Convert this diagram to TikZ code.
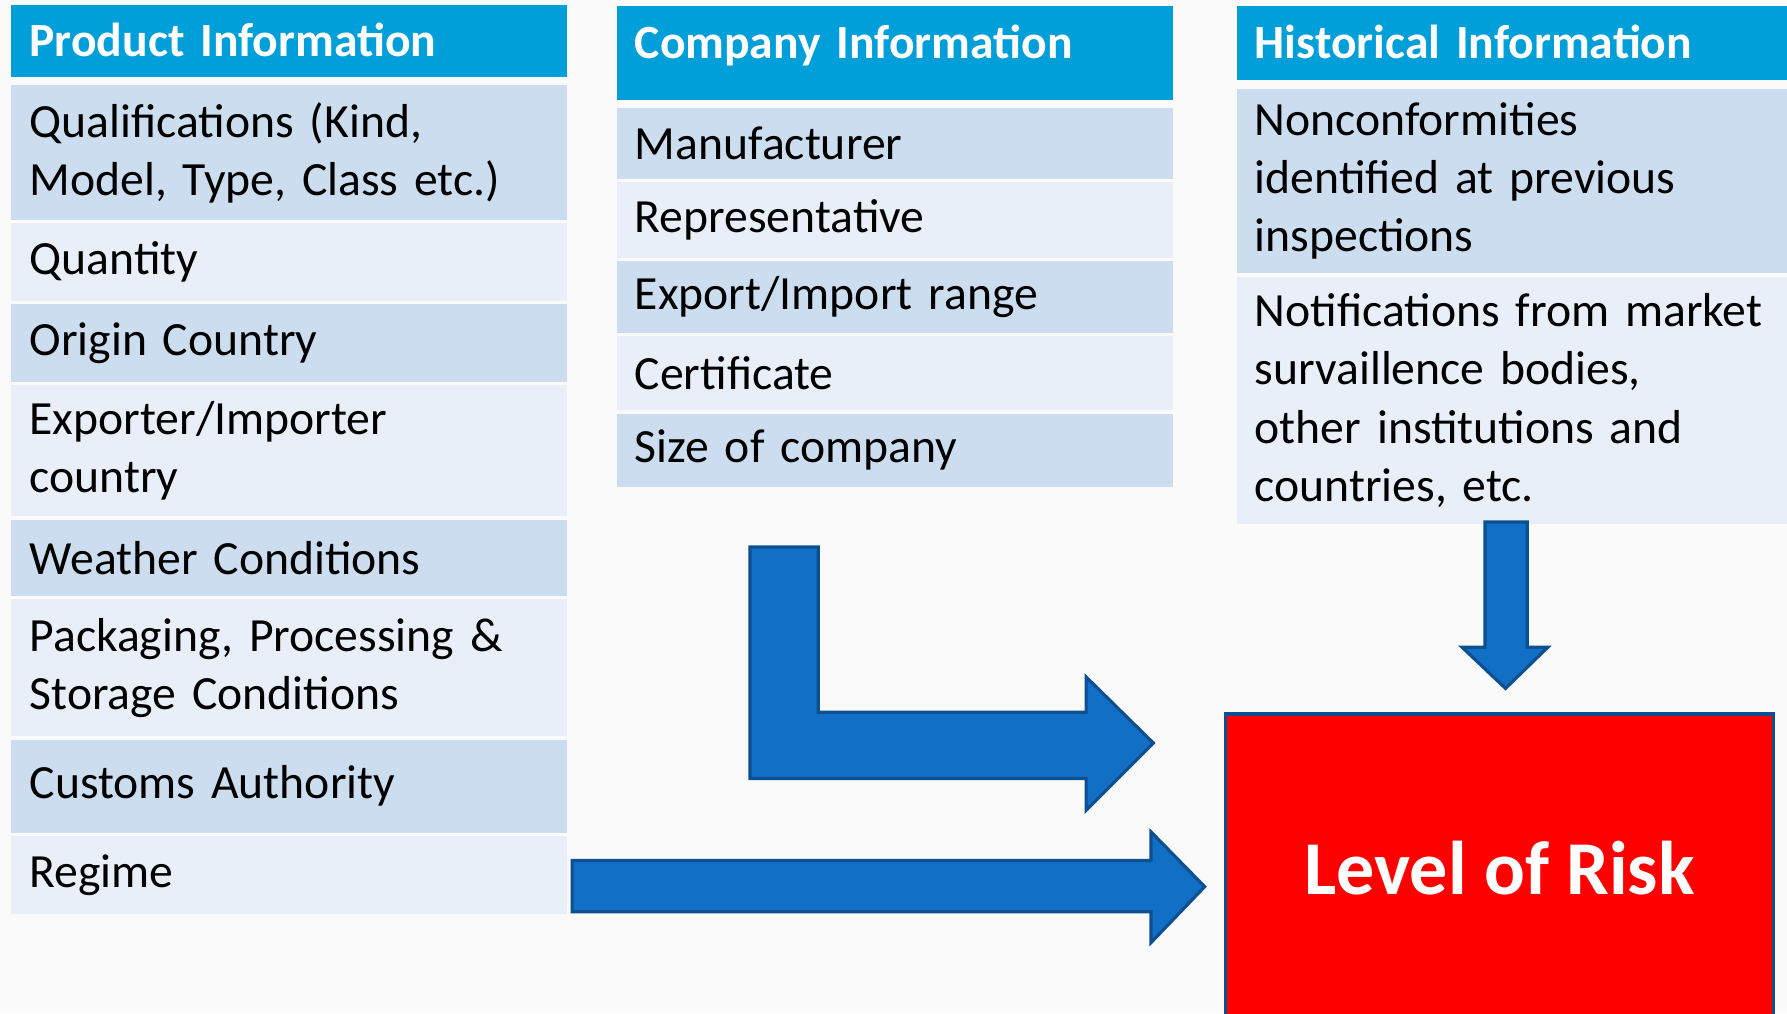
\documentclass[tikz,border=0pt]{standalone}
\usepackage{fontspec}
\setmainfont{Carlito}
\usetikzlibrary{positioning}

\definecolor{headblue}{RGB}{0,159,218}
\definecolor{rowdark}{RGB}{204,221,239}
\definecolor{rowlight}{RGB}{232,239,248}
\definecolor{arrowblue}{RGB}{17,112,197}
\definecolor{arrowedge}{RGB}{12,80,145}
\definecolor{paper}{RGB}{250,250,250}

\begin{document}
\begin{tikzpicture}[x=0.02cm, y=-0.02cm,
  node distance=0.06cm,
  cell/.style = {inner xsep=0.32cm, inner ysep=0pt, outer sep=0pt, align=left,
                 font=\fontsize{23.8}{29}\selectfont, anchor=north west},
  head/.style = {cell, fill=headblue, text=white, font=\fontsize{23.8}{29}\selectfont\bfseries,
                 text height=0.92cm},
  dark/.style = {cell, fill=rowdark},
  light/.style = {cell, fill=rowlight},
  colone/.style = {text width=9.12cm},
  coltwo/.style = {text width=9.12cm},
  colthree/.style = {text width=9.02cm},
  blockarrow/.style = {fill=arrowblue, draw=arrowedge, line width=1.6pt, line join=miter},
  ]
  \useasboundingbox[fill=paper] (0,0) rectangle (1568,889);

  % product information
  \node[head, colone, text depth=0.36cm] (p0) at (10,4) {Product Information};
  \node[dark, colone, minimum height=2.36cm, below=0.14cm of p0] (p1) {Qualifications (Kind,\\Model, Type, Class etc.)};
  \node[light, colone, minimum height=1.36cm, below=of p1] (p2) {Quantity};
  \node[dark, colone, minimum height=1.36cm, below=of p2] (p3) {Origin Country};
  \node[light, colone, minimum height=2.30cm, below=of p3] (p4) {Exporter/Importer\\country};
  \node[dark, colone, minimum height=1.34cm, below=of p4] (p5) {Weather Conditions};
  \node[light, colone, minimum height=2.40cm, below=of p5] (p6) {Packaging, Processing \&\\Storage Conditions};
  \node[dark, colone, minimum height=1.64cm, below=of p6] (p7) {Customs Authority};
  \node[light, colone, minimum height=1.36cm, below=of p7] (p8) {Regime};

  % company information
  \node[head, coltwo, text depth=0.74cm] (c0) at (541,5) {Company Information};
  \node[dark, coltwo, minimum height=1.24cm, below=0.14cm of c0] (c1) {Manufacturer};
  \node[light, coltwo, minimum height=1.32cm, below=of c1] (c2) {Representative};
  \node[dark, coltwo, minimum height=1.26cm, below=of c2] (c3) {Export/Import range};
  \node[light, coltwo, minimum height=1.30cm, below=of c3] (c4) {Certificate};
  \node[dark, coltwo, minimum height=1.28cm, below=of c4] (c5) {Size of company};

  % historical information
  \node[head, colthree, text depth=0.38cm] (h0) at (1085,5) {Historical Information};
  \node[dark, colthree, minimum height=3.24cm, below=0.16cm of h0] (h1) {Nonconformities\\identified at previous\\inspections};
  \node[light, colthree, minimum height=4.34cm, below=of h1] (h2) {Notifications from market\\survaillence bodies,\\other institutions and\\countries, etc.};

  % result
  \node[fill=red, draw=arrowedge, line width=1.6pt, minimum width=9.62cm, minimum height=5.4cm,
        anchor=north west, text=white, font=\fontsize{38}{46}\selectfont\bfseries] (risk) at (1074,625) {Level of Risk};

  % arrows
  \draw[blockarrow] (658,480) -- (718,480) -- (718,625) -- (953,625) -- (953,594)
    -- (1012,652) -- (953,711) -- (953,683) -- (658,683) -- cycle;
  \draw[blockarrow] (1303,458) -- (1340,458) -- (1340,568) -- (1358,568)
    -- (1321,604) -- (1283,568) -- (1303,568) -- cycle;
  \draw[blockarrow] (502,755) -- (1010,755) -- (1010,730) -- (1057,778)
    -- (1010,827) -- (1010,800) -- (502,800) -- cycle;
\end{tikzpicture}
\end{document}
